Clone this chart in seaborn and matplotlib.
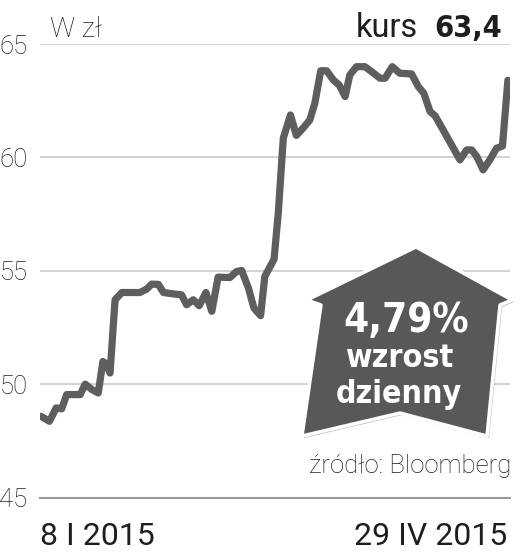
import matplotlib
matplotlib.use("Agg")
import matplotlib.pyplot as plt
import seaborn as sns
import pandas as pd
from matplotlib.patches import Polygon
import matplotlib.patheffects as pe

# days since 8 I 2015 and closing price (zł)
days = [0, 2.0, 3.6, 4.9, 6.1, 9.3, 10.5, 12.1, 13.6, 14.7, 15.5, 16.4, 17.6, 19.2,
        23.5, 25.1, 26.3, 27.9, 29.1, 31.4, 33.4, 34.6, 36.2, 37.6, 39.2, 40.6, 42.1,
        44.9, 46.5, 47.7, 49.3, 50.6, 52.2, 53.2, 55.4, 56.4, 57.6, 59.3, 60.7, 62.3,
        63.9, 65.1, 66.5, 67.9, 69.5, 70.9, 72.3, 73.4, 75.0, 77.0, 78.6, 80.6, 81.8,
        83.5, 85.3, 88.1, 89.7, 91.0, 92.5, 93.7, 95.6, 97.6, 99.6, 101.2, 102.4,
        103.6, 105.1, 106.7, 108.3, 109.7, 111.0]
price = [48.58, 48.36, 48.95, 48.91, 49.54, 49.54, 50.0, 49.76, 49.61, 51.0, 50.9, 50.49,
         53.72, 54.04, 54.04, 54.19, 54.41, 54.4, 54.04, 53.98, 53.94, 53.5, 53.72, 53.46,
         54.04, 53.21, 54.72, 54.7, 54.97, 55.01, 54.24, 53.36, 53.02, 54.75, 55.51, 57.54,
         60.85, 61.87, 60.97, 61.29, 61.65, 62.39, 63.82, 63.82, 63.41, 63.19, 62.68, 63.63,
         64.0, 64.0, 63.78, 63.49, 63.49, 64.0, 63.71, 63.68, 63.12, 62.83, 62.02, 61.83,
         61.21, 60.55, 59.89, 60.33, 60.33, 60.04, 59.45, 59.89, 60.4, 60.5, 63.4]
y_ticks = [45, 50, 55, 60, 65]
y_tick_labels = ["45", "50", "55", "60", "65"]
unit_label = "W zł"
kurs_label = "kurs"
kurs_value = "63,4"
change_label = "4,79%"
change_line2 = "wzrost"
change_line3 = "dzienny"
source_label = "źródło: Bloomberg"
start_label = "8 I 2015"
end_label = "29 IV 2015"

df = pd.DataFrame({"day": days, "price": price})

sns.set_theme(style="white")
plt.rcParams["font.family"] = ["Roboto", "DejaVu Sans"]

W, H = 523, 556
fig = plt.figure(figsize=(W / 100, H / 100), dpi=100)


def fx(px):
    return px / W


def fy(py):
    return 1 - py / H


ax = fig.add_axes([fx(40), fy(497.5), fx(510) - fx(40), fy(44) - fy(497.5)])
sns.lineplot(data=df, x="day", y="price", ax=ax, color="#5e5e5e", linewidth=5.2,
             solid_capstyle="round", solid_joinstyle="round", zorder=3)
ax.set_xlim(-0.25, 111.5)
ax.set_ylim(45, 65)
ax.set_yticks(y_ticks)
ax.set_yticklabels(y_tick_labels)
ax.set_xticks([])
ax.set_xlabel("")
ax.set_ylabel("")
ax.yaxis.grid(True, color="#cfcfcf", linewidth=1.3)
for s in ["top", "right", "left"]:
    ax.spines[s].set_visible(False)
ax.spines["bottom"].set_color("#9a9a9a")
ax.spines["bottom"].set_linewidth(1.5)
ax.tick_params(axis="y", length=0, pad=9, labelsize=18.5, labelcolor="#1e1e1e")
for lab in ax.get_yticklabels():
    lab.set_fontweight("light")

# header
fig.text(fx(50), fy(37), unit_label, fontsize=20, fontweight="light", color="#1e1e1e",
         ha="left", va="baseline")
fig.text(fx(502), fy(37), kurs_value, fontsize=22, fontweight="bold", color="#1e1e1e",
         ha="right", va="baseline", family="DejaVu Sans", fontstretch="condensed")
fig.text(fx(418), fy(37), kurs_label, fontsize=23.5, color="#1e1e1e",
         ha="right", va="baseline")

# arrow badge
pts_px = [(416, 247), (512, 300), (500, 305), (487, 436), (400, 413),
          (302, 436), (321, 305), (307, 300)]
poly = Polygon([(fx(x), fy(y)) for x, y in pts_px], closed=True, transform=fig.transFigure,
               facecolor="#58585a", edgecolor="white", linewidth=2.5, joinstyle="round",
               zorder=5)
poly.set_path_effects([pe.SimplePatchShadow(offset=(1.5, -1.5), shadow_rgbFace="#888888",
                                            alpha=0.5), pe.Normal()])
fig.add_artist(poly)
fig.text(fx(406), fy(332), change_label, fontsize=29, fontweight="bold", color="white",
         ha="center", va="baseline", family="DejaVu Sans", fontstretch="condensed", zorder=6)
fig.text(fx(400), fy(367), change_line2, fontsize=23, fontweight="bold", color="white",
         ha="center", va="baseline", family="DejaVu Sans", fontstretch="condensed", zorder=6)
fig.text(fx(399), fy(403), change_line3, fontsize=23, fontweight="bold", color="white",
         ha="center", va="baseline", family="DejaVu Sans", fontstretch="condensed", zorder=6)

# source and dates
fig.text(fx(511), fy(473), source_label, fontsize=18.5, fontweight="light", color="#1e1e1e",
         ha="right", va="baseline")
fig.text(fx(40), fy(545), start_label, fontsize=23, fontweight="normal", color="#1e1e1e",
         ha="left", va="baseline")
fig.text(fx(507), fy(545), end_label, fontsize=23, fontweight="normal", color="#1e1e1e",
         ha="right", va="baseline")

fig.savefig("out.png", dpi=100)
